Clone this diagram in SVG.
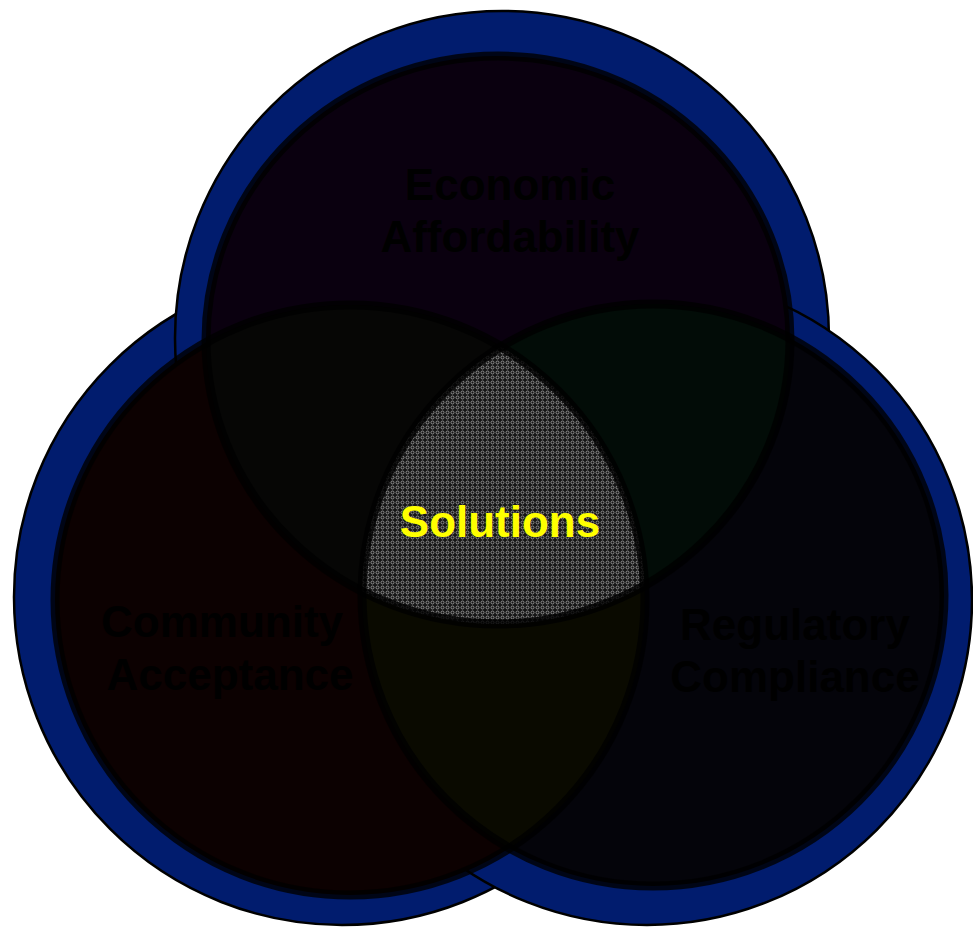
<svg xmlns="http://www.w3.org/2000/svg" width="973" height="930" viewBox="0 0 973 930">
<style>
.outer{fill:#011c6e;stroke:#000;stroke-width:2.5}
.label{font-family:"Liberation Sans",Arial,sans-serif;font-weight:bold;font-size:44px;text-anchor:middle}
.dark{fill:#000}
.sol{fill:#ffff00}
.edge{fill:none;stroke:#000;stroke-width:9;stroke-opacity:0.8}
</style>
<defs>
<clipPath id="cT"><ellipse cx="498" cy="340" rx="292" ry="284"/></clipPath>
<clipPath id="cL"><circle cx="350" cy="600" r="295"/></clipPath>
<clipPath id="cR"><circle cx="653" cy="595" r="291"/></clipPath>
<pattern id="dots" width="5" height="5" patternUnits="userSpaceOnUse">
<rect width="5" height="5" fill="#161616"/>
<circle cx="2.5" cy="2.5" r="1.5" fill="none" stroke="#a4a4a4" stroke-width="0.8"/>
</pattern>
</defs>
<rect width="973" height="930" fill="#fff"/>
<g id="rings">
<circle id="ring-community" class="outer" cx="342" cy="597" r="328"/>
<circle id="ring-economic" class="outer" cx="502" cy="338" r="327"/>
<circle id="ring-regulatory" class="outer" cx="647" cy="600" r="325"/>
</g>
<g id="economic">
<ellipse cx="498" cy="340" rx="292" ry="284" fill="#0a000f"/>
</g>
<g id="community">
<circle cx="350" cy="600" r="295" fill="#0c0101"/>
</g>
<g id="regulatory">
<circle cx="653" cy="595" r="291" fill="#04040a"/>
</g>
<g id="overlaps">
<g clip-path="url(#cT)"><circle cx="350" cy="600" r="295" fill="#060605"/></g>
<g clip-path="url(#cT)"><circle cx="653" cy="595" r="291" fill="#020c07"/></g>
<g clip-path="url(#cL)"><circle cx="653" cy="595" r="291" fill="#0a0a00"/></g>
</g>
<g id="solutions">
<g clip-path="url(#cT)"><g clip-path="url(#cL)"><circle cx="653" cy="595" r="291" fill="url(#dots)"/></g></g>
</g>
<g id="edges">
<ellipse class="edge" cx="498" cy="340" rx="292" ry="284"/>
<circle class="edge" cx="350" cy="600" r="295"/>
<circle class="edge" cx="653" cy="595" r="291"/>
</g>
<g id="connectors"/>
<g id="labels">
<text class="label dark" x="510" y="200">Economic</text>
<text class="label dark" x="510" y="252">Affordability</text>
<text class="label dark" x="222" y="637">Community</text>
<text class="label dark" x="230" y="690">Acceptance</text>
<text class="label dark" x="795" y="640">Regulatory</text>
<text class="label dark" x="795" y="692">Compliance</text>
<text class="label sol" x="500" y="537">Solutions</text>
</g>
</svg>
